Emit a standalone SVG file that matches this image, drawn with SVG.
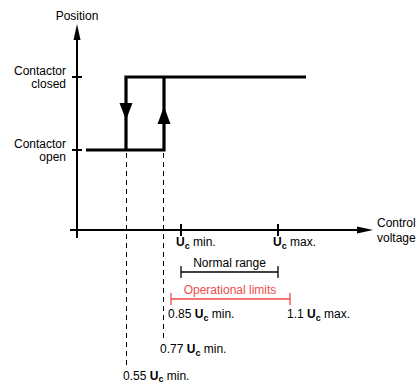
<svg xmlns="http://www.w3.org/2000/svg" width="419" height="384" viewBox="0 0 419 384">
<style>
text{font-family:"Liberation Sans",Arial,sans-serif;font-size:12px;fill:#000}
.r{text-anchor:end}
.m{text-anchor:middle}
.red{fill:#ee4b4b}
.ax{stroke:#000;stroke-width:2;fill:none}
.step{stroke:#000;stroke-width:3.2;fill:none}
.dash{stroke:#000;stroke-width:1;stroke-dasharray:5,4;fill:none}
.thin{stroke:#000;stroke-width:1.3;fill:none}
.redl{stroke:#ee4b4b;stroke-width:1.3;fill:none}
.b{font-weight:bold}
.s{font-weight:bold;font-size:9px}
</style>
<rect width="419" height="384" fill="#fff"/>
<g id="connectors">
<line class="ax" x1="77" y1="38" x2="77" y2="238"/>
<polygon points="77,24 73.5,40 80.5,40" fill="#000"/>
<line class="ax" x1="70" y1="230" x2="360" y2="230"/>
<polygon points="373,230 357,226.5 357,233.5" fill="#000"/>
<line class="ax" x1="72" y1="77" x2="82" y2="77"/>
<line class="ax" x1="72" y1="150" x2="82" y2="150"/>
<line class="ax" x1="181" y1="224" x2="181" y2="236"/>
<line class="ax" x1="278" y1="224" x2="278" y2="236"/>
<polyline class="step" points="86,150 164,150 164,77"/>
<polyline class="step" points="306,77 126,77 126,150"/>
<polygon points="126,120 119.5,103 132.5,103" fill="#000"/>
<polygon points="164,106.5 157.5,124 170.5,124" fill="#000"/>
<line class="dash" x1="126.5" y1="153" x2="126.5" y2="368"/>
<line class="dash" x1="163.5" y1="153" x2="163.5" y2="341"/>
<line class="thin" x1="181" y1="272" x2="278" y2="272"/>
<line class="thin" x1="181" y1="266" x2="181" y2="278"/>
<line class="thin" x1="278" y1="266" x2="278" y2="278"/>
<line class="redl" x1="171" y1="299" x2="290" y2="299"/>
<line class="redl" x1="171" y1="293" x2="171" y2="305"/>
<line class="redl" x1="290" y1="293" x2="290" y2="305"/>
</g>
<g id="labels">
<text class="m" x="77" y="20">Position</text>
<text class="r" x="66" y="75">Contactor</text>
<text class="r" x="66" y="88">closed</text>
<text class="r" x="66" y="148">Contactor</text>
<text class="r" x="66" y="161">open</text>
<text x="377" y="227">Control</text>
<text x="377" y="242">voltage</text>
<text x="176" y="246"><tspan class="b">U</tspan><tspan class="s" dy="3">c</tspan><tspan dy="-3"> min.</tspan></text>
<text x="273" y="246"><tspan class="b">U</tspan><tspan class="s" dy="3">c</tspan><tspan dy="-3"> max.</tspan></text>
<text class="m" x="229.5" y="267">Normal range</text>
<text class="m red" x="230" y="294">Operational limits</text>
<text x="168" y="318">0.85 <tspan class="b">U</tspan><tspan class="s" dy="3">c</tspan><tspan dy="-3"> min.</tspan></text>
<text x="287" y="318">1.1 <tspan class="b">U</tspan><tspan class="s" dy="3">c</tspan><tspan dy="-3"> max.</tspan></text>
<text x="160" y="353">0.77 <tspan class="b">U</tspan><tspan class="s" dy="3">c</tspan><tspan dy="-3"> min.</tspan></text>
<text x="123" y="380">0.55 <tspan class="b">U</tspan><tspan class="s" dy="2">c</tspan><tspan dy="-2"> min.</tspan></text>
</g>
</svg>
